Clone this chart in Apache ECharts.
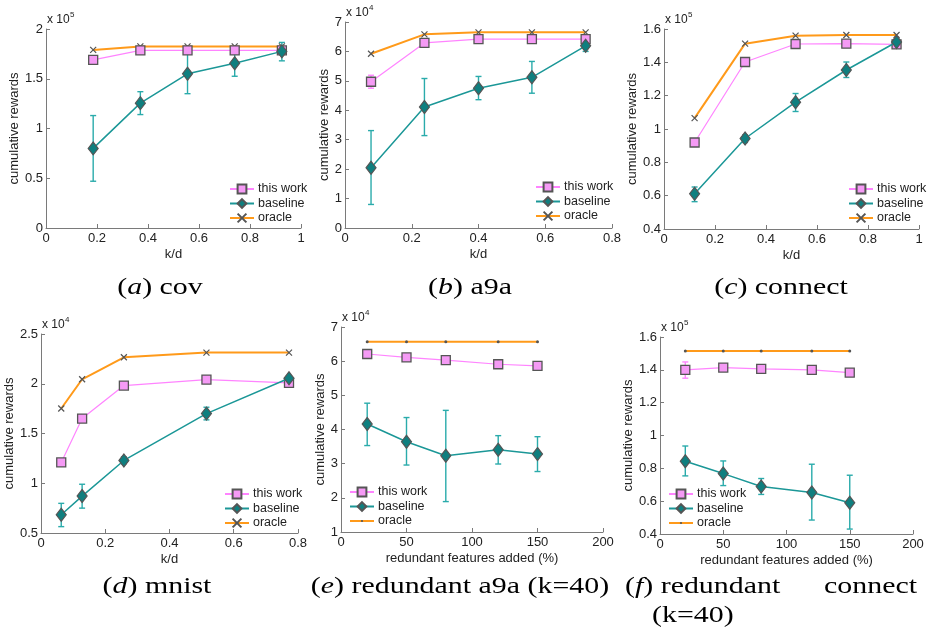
<!DOCTYPE html>
<html><head><meta charset="utf-8">
<script src="https://cdn.jsdelivr.net/npm/echarts@6/dist/echarts.min.js"></script>
<style>html,body{margin:0;padding:0;background:#fff}#c{width:927px;height:641px}</style>
</head><body><div id="c"></div>
<script>
// ---- (a) cov ----
const covX = [0.185, 0.37, 0.555, 0.74, 0.925];
const covThis = [1.69, 1.785, 1.785, 1.785, 1.785];
const covBase = [0.80, 1.255, 1.55, 1.655, 1.775];
const covOracle = [1.79, 1.825, 1.825, 1.825, 1.825];
const covBaseLo = [0.47, 1.14, 1.35, 1.525, 1.68];
const covBaseHi = [1.13, 1.37, 1.75, 1.79, 1.865];
// ---- (b) a9a ----
const a9aX = [0.078, 0.238, 0.40, 0.56, 0.721];
const a9aThis = [4.97, 6.29, 6.42, 6.42, 6.42];
const a9aBase = [2.05, 4.11, 4.75, 5.12, 6.19];
const a9aOracle = [5.92, 6.58, 6.65, 6.65, 6.65];
const a9aBaseLo = [0.80, 3.14, 4.36, 4.58, 6.0];
const a9aBaseHi = [3.31, 5.08, 5.15, 5.66, 6.35];
const a9aThisLo = [4.75, null, null, null, null];
const a9aThisHi = [5.19, null, null, null, null];
// ---- (c) connect ----
const conX = [0.12, 0.318, 0.516, 0.715, 0.912];
const conThis = [0.919, 1.402, 1.51, 1.512, 1.508];
const conBase = [0.612, 0.943, 1.161, 1.354, 1.522];
const conOracle = [1.065, 1.512, 1.56, 1.564, 1.564];
const conBaseLo = [0.564, 0.919, 1.105, 1.309, 1.488];
const conBaseHi = [0.652, 0.965, 1.213, 1.402, 1.538];
// ---- (d) mnist ----
const mnX = [0.063, 0.128, 0.258, 0.515, 0.772];
const mnThis = [1.209, 1.65, 1.982, 2.042, 2.008];
const mnBase = [0.684, 0.871, 1.229, 1.70, 2.055];
const mnOracle = [1.751, 2.045, 2.266, 2.313, 2.313];
const mnBaseLo = [0.564, 0.75, 1.196, 1.637, 2.02];
const mnBaseHi = [0.798, 0.99, 1.266, 1.764, 2.08];
// ---- (e) redundant a9a (k=40) ----
const redX = [20, 50, 80, 120, 150];
const raThis = [6.21, 6.11, 6.03, 5.91, 5.86];
const raBase = [4.16, 3.64, 3.23, 3.41, 3.28];
const raOracle = [6.57, 6.57, 6.57, 6.57, 6.57];
const raBaseLo = [3.53, 2.96, 1.89, 2.99, 2.77];
const raBaseHi = [4.77, 4.35, 4.56, 3.82, 3.79];
// ---- (f) redundant connect (k=40) ----
const rcThis = [1.40, 1.414, 1.406, 1.40, 1.383];
const rcBase = [0.843, 0.768, 0.689, 0.653, 0.59];
const rcOracle = [1.515, 1.515, 1.515, 1.515, 1.515];
const rcBaseLo = [0.754, 0.695, 0.641, 0.485, 0.43];
const rcBaseHi = [0.936, 0.845, 0.738, 0.825, 0.758];
const rcThisLo = [1.349, null, 1.39, null, null];
const rcThisHi = [1.448, null, 1.42, null, null];

const names = ['this work', 'baseline', 'oracle'];

const panels = [
  {x: covX, tw: covThis, bl: covBase, or: covOracle, blLo: covBaseLo, blHi: covBaseHi,
   grid: [46, 29, 255, 199], xr: [0, 1, 0.2], yr: [0, 2, 0.5], xName: 'k/d', yGap: 22, exp: '5',
   leg: [229, 182], dot: false},
  {x: a9aX, tw: a9aThis, bl: a9aBase, or: a9aOracle, blLo: a9aBaseLo, blHi: a9aBaseHi, twLo: a9aThisLo, twHi: a9aThisHi,
   grid: [345, 22, 267, 206], xr: [0, 0.8, 0.2], yr: [0, 7, 1], xName: 'k/d', yGap: 10, exp: '4',
   leg: [535, 180], dot: false},
  {x: conX, tw: conThis, bl: conBase, or: conOracle, blLo: conBaseLo, blHi: conBaseHi,
   grid: [664, 29, 255, 200], xr: [0, 1, 0.2], yr: [0.4, 1.6, 0.2], xName: 'k/d', yGap: 19, exp: '5',
   leg: [848, 182], dot: false},
  {x: mnX, tw: mnThis, bl: mnBase, or: mnOracle, blLo: mnBaseLo, blHi: mnBaseHi,
   grid: [41, 334, 257, 199], xr: [0, 0.8, 0.2], yr: [0.5, 2.5, 0.5], xName: 'k/d', yGap: 21, exp: '4',
   leg: [224, 487], dot: false},
  {x: redX, tw: raThis, bl: raBase, or: raOracle, blLo: raBaseLo, blHi: raBaseHi,
   grid: [341, 327, 262, 205], xr: [0, 200, 50], yr: [1, 7, 1], xName: 'redundant features added (%)', yGap: 11, exp: '4',
   leg: [349, 485], dot: true},
  {x: redX, tw: rcThis, bl: rcBase, or: rcOracle, blLo: rcBaseLo, blHi: rcBaseHi, twLo: rcThisLo, twHi: rcThisHi,
   grid: [660, 337, 253, 197], xr: [0, 200, 50], yr: [0.4, 1.6, 0.2], xName: 'redundant features added (%)', yGap: 20, exp: '5',
   leg: [668, 487], dot: true}
];

const FONT = '"Liberation Sans", Arial, sans-serif';
const AX = '#7a7a7a';
const TXT = '#222';
const PINK = '#ff84ff', PINKFILL = '#f59af5';
const TEAL = '#1b9797', TEALFILL = '#0f7f7f', TEALERR = '#2aabab';
const ORANGE = '#ff9a1a', EDGE = '#555';
const X_PATH = 'path://M0,0L10,10M10,0L0,10';
const DOT_PATH = 'path://M0,0M8,8M3,4a1,1 0 1,0 2,0a1,1 0 1,0 -2,0';

function zip(xs, ys) { return xs.map((v, i) => [v, ys[i]]); }
function errData(xs, lo, hi) {
  const out = [];
  xs.forEach((v, i) => { if (lo[i] != null) out.push([v, lo[i], hi[i]]); });
  return out;
}
function errSeries(i, data, color) {
  return {
    type: 'custom', xAxisIndex: i, yAxisIndex: i, z: 1, silent: true,
    data: data,
    renderItem: function (params, api) {
      const p1 = api.coord([api.value(0), api.value(1)]);
      const p2 = api.coord([api.value(0), api.value(2)]);
      const w = 3;
      const st = {stroke: color, lineWidth: 1.4};
      return {type: 'group', children: [
        {type: 'line', shape: {x1: p1[0], y1: p1[1], x2: p2[0], y2: p2[1]}, style: st},
        {type: 'line', shape: {x1: p1[0] - w, y1: p1[1], x2: p1[0] + w, y2: p1[1]}, style: st},
        {type: 'line', shape: {x1: p2[0] - w, y1: p2[1], x2: p2[0] + w, y2: p2[1]}, style: st}
      ]};
    }
  };
}

const option = {
  animation: false,
  backgroundColor: '#fff',
  grid: [], xAxis: [], yAxis: [], series: [], legend: [], graphic: []
};

panels.forEach((p, i) => {
  const [gl, gt, gw, gh] = p.grid;
  option.grid.push({left: gl, top: gt, width: gw, height: gh, containLabel: false});
  option.xAxis.push({
    type: 'value', gridIndex: i, min: p.xr[0], max: p.xr[1], interval: p.xr[2],
    axisLine: {show: true, onZero: false, lineStyle: {color: AX, width: 1}},
    axisTick: {show: true, inside: true, length: 4, lineStyle: {color: AX}},
    splitLine: {show: false},
    axisLabel: {color: TXT, fontSize: 13, fontFamily: FONT, margin: 4},
    name: p.xName, nameLocation: 'middle', nameGap: 20,
    nameTextStyle: {color: TXT, fontSize: 13, fontFamily: FONT}
  });
  option.yAxis.push({
    type: 'value', gridIndex: i, min: p.yr[0], max: p.yr[1], interval: p.yr[2],
    axisLine: {show: true, onZero: false, lineStyle: {color: AX, width: 1}},
    axisTick: {show: true, inside: true, length: 4, lineStyle: {color: AX}},
    splitLine: {show: false},
    axisLabel: {color: TXT, fontSize: 13, fontFamily: FONT, margin: 3},
    name: 'cumulative rewards', nameLocation: 'middle', nameGap: p.yGap,
    nameTextStyle: {color: TXT, fontSize: 13, fontFamily: FONT}
  });
  const suffix = p.dot ? ' ' : '';
  option.series.push(errSeries(i, errData(p.x, p.blLo, p.blHi), TEALERR));
  if (p.twLo) option.series.push(errSeries(i, errData(p.x, p.twLo, p.twHi), PINK));
  option.series.push({
    name: names[2] + suffix, type: 'line', xAxisIndex: i, yAxisIndex: i, z: 2,
    data: zip(p.x, p.or),
    symbol: p.dot ? DOT_PATH : X_PATH, symbolSize: p.dot ? 12 : 6,
    lineStyle: {color: ORANGE, width: 2},
    itemStyle: {color: p.dot ? EDGE : 'rgba(0,0,0,0)', borderColor: EDGE, borderWidth: p.dot ? 0 : 1.2}
  });
  option.series.push({
    name: names[0] + suffix, type: 'line', xAxisIndex: i, yAxisIndex: i, z: 3,
    data: zip(p.x, p.tw),
    symbol: 'rect', symbolSize: 9,
    lineStyle: {color: PINK, width: 1.2},
    itemStyle: {color: PINKFILL, borderColor: EDGE, borderWidth: 1.3}
  });
  option.series.push({
    name: names[1] + suffix, type: 'line', xAxisIndex: i, yAxisIndex: i, z: 4,
    data: zip(p.x, p.bl),
    symbol: 'diamond', symbolSize: [10, 13],
    lineStyle: {color: TEAL, width: 1.5},
    itemStyle: {color: TEALFILL, borderColor: EDGE, borderWidth: 1.2}
  });
  option.legend.push({
    orient: 'vertical', left: p.leg[0], top: p.leg[1], padding: 0,
    itemWidth: 24, itemHeight: 11, itemGap: 0.5, selectedMode: false,
    textStyle: {color: TXT, fontSize: 12.5, fontFamily: FONT, lineHeight: 14, padding: [0, 0, 0, -1]},
    data: names.map(n => n + suffix)
  });
  option.graphic.push({type: 'text', x: gl + 1, y: gt - 3,
    style: {text: 'x 10', font: '12px ' + FONT, fill: TXT, align: 'left', verticalAlign: 'bottom'}});
  option.graphic.push({type: 'text', x: gl + 24, y: gt - 10,
    style: {text: p.exp, font: '8px ' + FONT, fill: TXT, align: 'left', verticalAlign: 'bottom'}});
});

// captions
const SERIF = '"Liberation Serif", "Times New Roman", serif';
const SX = 1.3;
function cap(x, y, letter, rest, align) {
  return {type: 'text', x: x, y: y, scaleX: SX,
    style: {text: '{n|(}{i|' + letter + '}{n|)' + rest + '}',
      rich: {n: {font: '23px ' + SERIF, fill: '#000'}, i: {font: 'italic 23px ' + SERIF, fill: '#000'}},
      align: align || 'center', verticalAlign: 'middle'}};
}
function plain(x, y, txt, align) {
  return {type: 'text', x: x, y: y, scaleX: SX,
    style: {text: txt, font: '23px ' + SERIF, fill: '#000', align: align, verticalAlign: 'middle'}};
}
option.graphic.push(cap(160, 288, 'a', ' cov'));
option.graphic.push(cap(470, 288, 'b', ' a9a'));
option.graphic.push(cap(781, 288, 'c', ' connect'));
option.graphic.push(cap(157, 587, 'd', ' mnist'));
option.graphic.push(cap(460, 587, 'e', ' redundant a9a (k=40)'));
option.graphic.push(cap(625, 587, 'f', ' redundant', 'left'));
option.graphic.push(plain(917, 587, 'connect', 'right'));
option.graphic.push(plain(652, 616, '(k=40)', 'left'));

const chart = echarts.init(document.getElementById('c'), null, {renderer: 'canvas'});
chart.setOption(option);
</script>
</body></html>
